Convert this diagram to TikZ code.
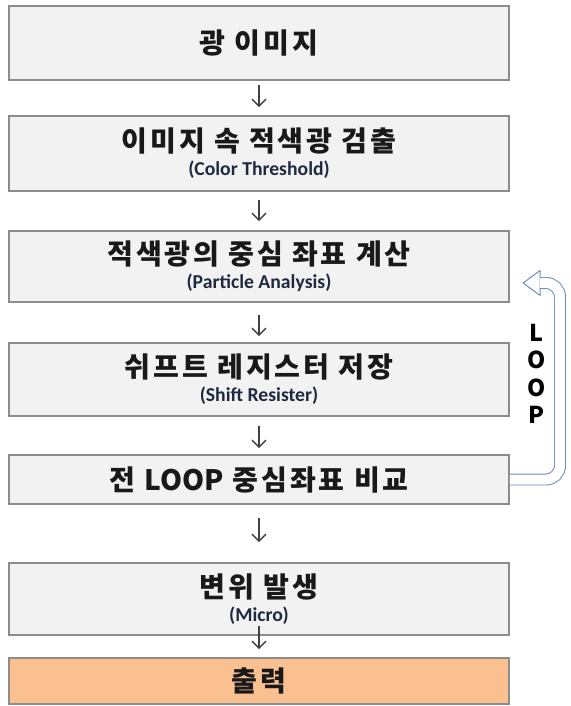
\documentclass[tikz,border=0pt]{standalone}
\usepackage{fontspec}
\setmainfont{Carlito}
\newfontfamily\kofont{Noto Sans CJK KR}[LetterSpace=10]
\usetikzlibrary{arrows.meta}

\definecolor{boxfill}{HTML}{F2F2F2}
\definecolor{boxline}{HTML}{8C8C8C}
\definecolor{outfill}{HTML}{FAC090}
\definecolor{loopblue}{HTML}{6A8BBF}
\definecolor{engnavy}{HTML}{1F2A40}

\newcommand{\eng}[1]{{\rmfamily\bfseries\fontsize{14}{15}\selectfont\color{engnavy}#1}}

\begin{document}
\begin{tikzpicture}[
    stepbox/.style={rectangle, draw=boxline, line width=1.4pt, fill=boxfill, minimum width=12.5cm, align=center, text=black!90, font=\kofont\bfseries\fontsize{20}{21}\selectfont},
    outbox/.style={stepbox, fill=outfill},
    flow/.style={draw=black!75, line width=0.9pt, -{Straight Barb[length=5pt,width=10pt]}},
    loopline/.style={draw=loopblue, line width=0.7pt, double=white, double distance=0.25cm, rounded corners=0.35cm},
    loophead/.style={draw=loopblue, line width=0.7pt, fill=white, line join=round}
]
\useasboundingbox (0,0) rectangle (14.25,-17.65);

% Steps
\node[stepbox, minimum height=1.85cm] (img) at (6.475,-1.075) {광 이미지};
\node[stepbox, minimum height=1.875cm] (detect) at (6.475,-3.8375) {이미지 속 적색광 검출\\[-4pt]\eng{(Color Threshold)}};
\node[stepbox, minimum height=1.775cm] (centroid) at (6.475,-6.6625) {적색광의 중심 좌표 계산\\[-4pt]\eng{(Particle Analysis)}};
\node[stepbox, minimum height=1.825cm] (shift) at (6.475,-9.4875) {쉬프트 레지스터 저장\\[-4pt]\eng{(Shift Resister)}};
\node[stepbox, minimum height=1.225cm] (cmp) at (6.475,-11.9875) {전 {\addfontfeature{LetterSpace=0}LOOP} 중심좌표 비교};
\node[stepbox, minimum height=1.8cm] (disp) at (6.475,-14.975) {변위 발생\\[-4pt]\eng{(Micro)}};
\node[outbox, minimum height=1.15cm] (out) at (6.475,-17.025) {출력};

% Arrows
\draw[flow, shorten <=0.1cm, shorten >=0.2cm] (img) -- (detect);
\draw[flow, shorten <=0.2cm, shorten >=0.225cm] (detect) -- (centroid);
\draw[flow, shorten <=0.3cm, shorten >=0.15cm] (centroid) -- (shift);
\draw[flow, shorten <=0.225cm, shorten >=0.15cm] (shift) -- (cmp);
\draw[flow, shorten <=0.325cm, shorten >=0.5cm] (cmp) -- (disp);
\draw[flow, shorten <=-0.25cm, shorten >=0.2cm] (disp) -- (out);

% Loop back
\coordinate (looptip) at (13.075,-7.075);
\filldraw[loophead] (looptip) -- ++(0.425,0.31) -- ++(0,-0.62) -- cycle;
\draw[loopline] (cmp.east) -- ++(1.25,0) |- ([xshift=0.425cm]looptip);
\node[font=\kofont\bfseries\fontsize{16.5}{19.5}\selectfont, align=center] (looplbl) at (13.42,-9.35) {L\\O\\O\\P};

\end{tikzpicture}
\end{document}
